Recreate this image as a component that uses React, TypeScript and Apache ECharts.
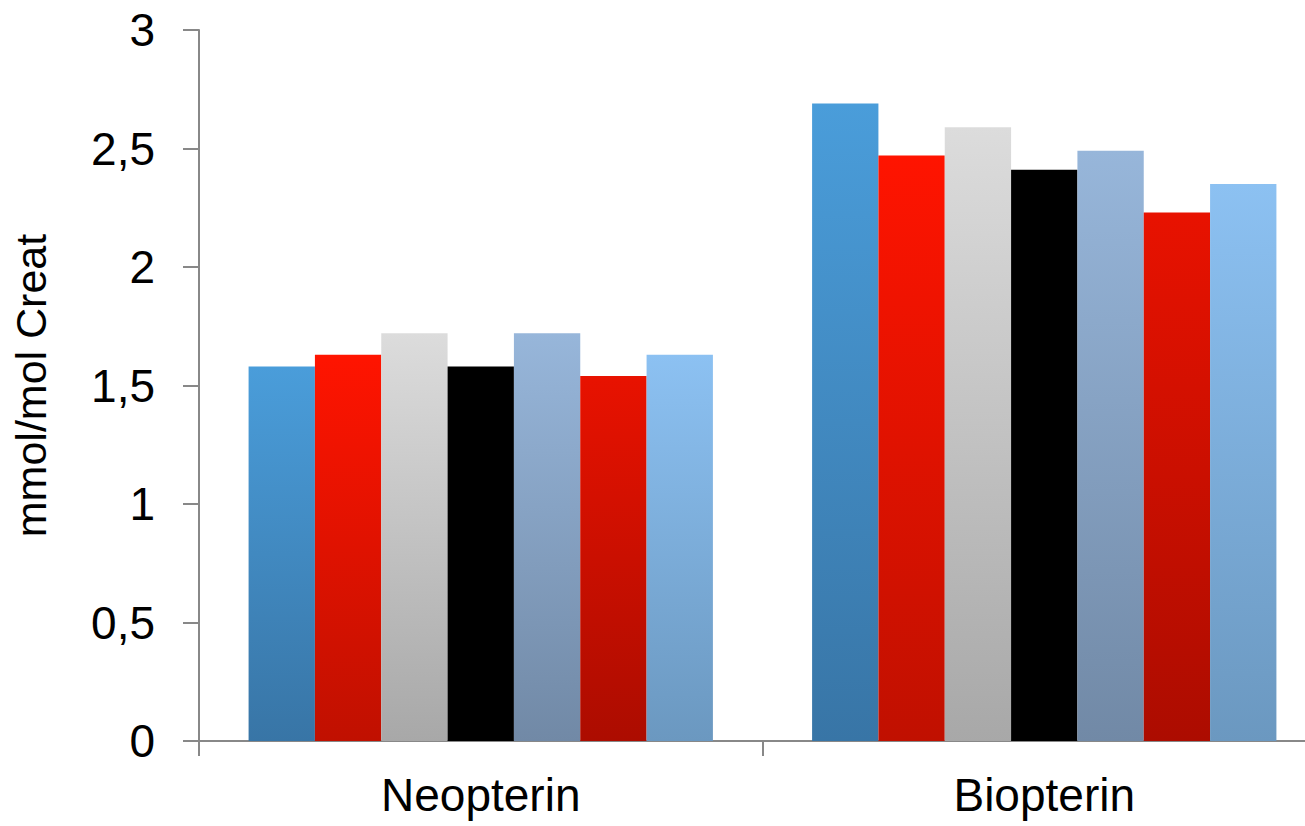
import React, { useEffect, useRef } from "react";
import * as echarts from "echarts";

const categories = ["Neopterin", "Biopterin"];
const seriesNames = ["Serie 1", "Serie 2", "Serie 3", "Serie 4", "Serie 5", "Serie 6", "Serie 7"];
const seriesValues: number[][] = [
  [1.58, 2.69],
  [1.63, 2.47],
  [1.72, 2.59],
  [1.58, 2.41],
  [1.72, 2.49],
  [1.54, 2.23],
  [1.63, 2.35],
];
const gradientTop = ["#4A9DDA", "#FF1400", "#DCDCDC", "#000000", "#97B6DA", "#E81200", "#8CC1F2"];
const gradientBottom = ["#3875A6", "#C01000", "#A8A8A8", "#000000", "#7189A6", "#AC0C00", "#6B98C0"];
const yTicks = { min: 0, max: 3, interval: 0.5 };
const yName = "mmol/mol Creat";

const FONT = "'Liberation Sans', Arial, sans-serif";

export default function App() {
  const ref = useRef<HTMLDivElement>(null);
  useEffect(() => {
    if (!ref.current) return;
    const chart = echarts.init(ref.current, undefined, { renderer: "svg" });
    chart.setOption({
      animation: false,
      backgroundColor: "#ffffff",
      textStyle: { fontFamily: FONT },
      grid: { left: 199, top: 30, right: 4, bottom: 85, containLabel: false, outerBoundsMode: "none" },
      xAxis: {
        type: "category",
        data: categories,
        axisLine: { show: true, lineStyle: { color: "#888888", width: 2 } },
        axisTick: { show: true, alignWithLabel: false, length: 15, lineStyle: { color: "#888888", width: 2 } },
        axisLabel: { color: "#000000", fontSize: 46, fontFamily: FONT, margin: 31 },
        splitLine: { show: false },
      },
      yAxis: {
        type: "value",
        min: yTicks.min,
        max: yTicks.max,
        interval: yTicks.interval,
        name: yName,
        nameLocation: "middle",
        nameRotate: 90,
        nameGap: 147,
        nameTextStyle: { color: "#000000", fontSize: 43, fontFamily: FONT },
        axisLine: { show: true, lineStyle: { color: "#888888", width: 2 } },
        axisTick: { show: true, inside: false, length: 16, lineStyle: { color: "#888888", width: 2 } },
        axisLabel: {
          color: "#000000",
          fontSize: 46,
          fontFamily: FONT,
          margin: 44,
          formatter: (v: number) => String(v).replace(".", ","),
        },
        splitLine: { show: false },
      },
      series: seriesNames.map((name, i) => ({
        name,
        type: "bar",
        data: seriesValues[i],
        barGap: "0%",
        barCategoryGap: "17.6%",
        itemStyle: {
          color: new echarts.graphic.LinearGradient(0, 0, 0, 1, [
            { offset: 0, color: gradientTop[i] },
            { offset: 1, color: gradientBottom[i] },
          ]),
        },
      })),
    });
    return () => chart.dispose();
  }, []);
  return (
    <div
      style={{
        position: "absolute",
        left: 0,
        top: 0,
        width: 1305,
        height: 826,
        overflow: "hidden",
        background: "#ffffff",
      }}
    >
      <div ref={ref} style={{ width: 1330, height: 826 }} />
    </div>
  );
}
